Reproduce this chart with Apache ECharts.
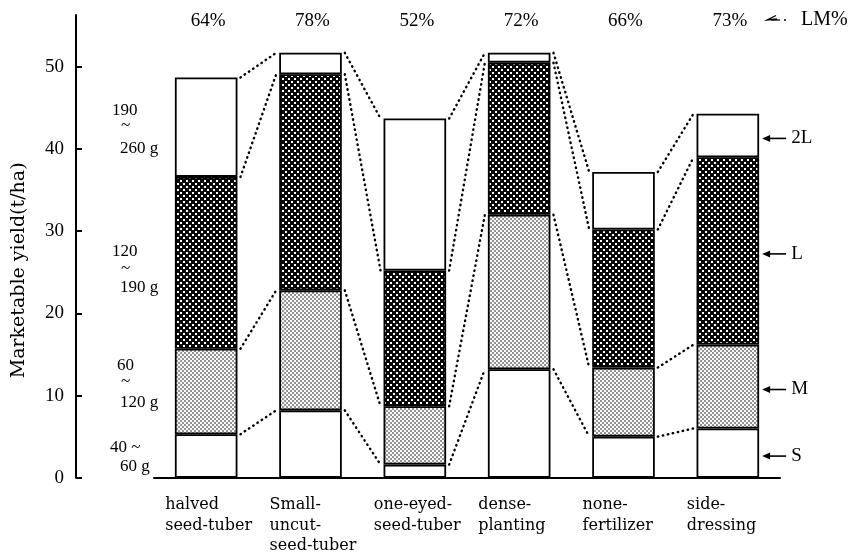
<!DOCTYPE html>
<html>
<head>
<meta charset="utf-8">
<script src="https://cdn.jsdelivr.net/npm/echarts@6/dist/echarts.min.js"></script>
<style>
  html, body { margin: 0; padding: 0; background: #fff; }
  #chart { width: 863px; height: 554px; }
</style>
</head>
<body>
<div id="chart"></div>
<script>
// Seeding methods compared
const categories = ['halved\nseed-tuber', 'Small-\nuncut-\nseed-tuber', 'one-eyed-\nseed-tuber',
                    'dense-\nplanting', 'none-\nfertilizer', 'side-\ndressing'];
// Marketable yield by tuber size class (t/ha)
const sizeS  = [5.3, 8.2, 1.6, 13.2, 5.0, 6.0];     // 40~60 g
const sizeM  = [10.4, 14.6, 7.1, 18.8, 8.4, 10.2];  // 60~120 g
const sizeL  = [20.9, 26.3, 16.5, 18.5, 16.8, 22.8]; // 120~190 g
const size2L = [12.1, 2.6, 18.5, 1.2, 7.0, 5.3];    // 190~260 g
// Share of L + M tubers (%)
const lmPercent = [64, 78, 52, 72, 66, 73];
const yTicks = [0, 10, 20, 30, 40, 50];
const classNames = ['S', 'M', 'L', '2L'];

const SERIF = '"Liberation Serif", "Times New Roman", serif';
const SERIF_WIDE = '"DejaVu Serif", serif';

// Fill tiles for the hatched classes
function makeTile(size, draw) {
  const c = document.createElement('canvas');
  c.width = c.height = size;
  draw(c.getContext('2d'));
  return c;
}
const darkTile = makeTile(6, ctx => {
  ctx.fillStyle = '#080808'; ctx.fillRect(0, 0, 6, 6);
  ctx.fillStyle = '#ffffff'; ctx.fillRect(0, 0, 2, 2); ctx.fillRect(3, 3, 2, 2);
});
const lightTile = makeTile(4, ctx => {
  ctx.fillStyle = '#fafafa'; ctx.fillRect(0, 0, 4, 4);
  ctx.fillStyle = '#111';
  ctx.beginPath(); ctx.arc(1, 1, 0.8, 0, Math.PI * 2); ctx.fill();
  ctx.beginPath(); ctx.arc(3, 3, 0.8, 0, Math.PI * 2); ctx.fill();
});

const classSeries = [sizeS, sizeM, sizeL, size2L];
const classFills = ['#ffffff', { image: lightTile, repeat: 'repeat' },
                    { image: darkTile, repeat: 'repeat' }, '#ffffff'];

// Cumulative heights: top of S, M, L and 2L for every bar
const cumulative = classSeries.map((_, k) =>
  categories.map((__, i) => classSeries.slice(0, k + 1).reduce((s, arr) => s + arr[i], 0)));

// Dotted links between neighbouring bars at every class boundary
const linkData = [];
for (let i = 0; i < categories.length - 1; i++) {
  for (let k = 0; k < cumulative.length; k++) {
    linkData.push([i, cumulative[k][i], cumulative[k][i + 1]]);
  }
}

// Class arrows beside the last bar, at each segment's middle
const last = categories.length - 1;
const arrowData = classNames.map((name, k) => {
  const lo = k === 0 ? 0 : cumulative[k - 1][last];
  return [last, (lo + cumulative[k][last]) / 2, k];
});

const BAR_RATIO = 0.6;

const barSeries = classSeries.map((arr, k) => ({
  type: 'bar',
  name: classNames[k],
  stack: 'yield',
  data: arr,
  barWidth: (BAR_RATIO * 100) + '%',
  itemStyle: { color: classFills[k], borderColor: '#000', borderWidth: 1.8 },
  emphasis: { disabled: true },
  z: 3
}));

const chart = echarts.init(document.getElementById('chart'), null, { renderer: 'canvas' });

chart.setOption({
  animation: false,
  backgroundColor: '#fff',
  grid: { left: 154, right: 83, top: 15, bottom: 73 },
  xAxis: {
    type: 'category',
    data: categories,
    axisLine: { show: true, lineStyle: { color: '#000', width: 2 } },
    axisTick: { show: false },
    axisLabel: {
      margin: 17,
      align: 'center',
      formatter: v => v.split('\n').map(s => '{a|' + s + '}').join('\n'),
      rich: {
        a: { width: 82, align: 'left', fontFamily: SERIF_WIDE, fontSize: 16, lineHeight: 20.5, color: '#000' }
      }
    }
  },
  yAxis: {
    type: 'value',
    min: 0,
    max: 56.3,
    interval: 10,
    offset: 78,
    splitLine: { show: false },
    axisLine: { show: true, lineStyle: { color: '#000', width: 2 } },
    axisTick: { show: true, inside: true, length: 6, customValues: yTicks, lineStyle: { color: '#000', width: 2 } },
    axisLabel: { customValues: yTicks, margin: 12, fontFamily: SERIF, fontSize: 19, color: '#000' },
    name: 'Marketable yield(t/ha)',
    nameLocation: 'middle',
    nameGap: 47,
    nameTextStyle: { fontFamily: SERIF_WIDE, fontSize: 19, color: '#000', padding: [0, 48, 0, 0] }
  },
  series: [
    ...barSeries,
    {
      type: 'custom',
      name: 'links',
      data: linkData,
      encode: { x: 0, y: 1 },
      silent: true,
      z: 2,
      renderItem: (params, api) => {
        const i = api.value(0);
        const half = api.size([1, 0])[0] * BAR_RATIO / 2;
        const a = api.coord([i, api.value(1)]);
        const b = api.coord([i + 1, api.value(2)]);
        return {
          type: 'line',
          shape: { x1: a[0] + half + 3, y1: a[1], x2: b[0] - half - 3, y2: b[1] },
          style: { stroke: '#000', lineWidth: 2.4, lineDash: [0.5, 4.6], lineCap: 'round' }
        };
      }
    },
    {
      type: 'custom',
      name: 'LM%',
      data: lmPercent.map((p, i) => [i, p]),
      encode: { x: 0, y: -1 },
      silent: true,
      renderItem: (params, api) => {
        const x = api.coord([api.value(0), 0])[0];
        return {
          type: 'text',
          x: x + 2,
          y: params.coordSys.y + 6,
          style: { text: api.value(1) + '%', align: 'center', verticalAlign: 'middle',
                   font: '19px ' + SERIF, fill: '#000' }
        };
      }
    },
    {
      type: 'custom',
      name: 'classes',
      data: arrowData,
      encode: { x: 0, y: 1 },
      silent: true,
      renderItem: (params, api) => {
        const half = api.size([1, 0])[0] * BAR_RATIO / 2;
        const p = api.coord([api.value(0), api.value(1)]);
        const x0 = p[0] + half + 3;
        const y = p[1] + 3;
        return {
          type: 'group',
          children: [
            { type: 'polygon', shape: { points: [[x0, y], [x0 + 8, y - 3.5], [x0 + 8, y + 3.5]] },
              style: { fill: '#000' } },
            { type: 'line', shape: { x1: x0 + 6, y1: y, x2: x0 + 24, y2: y },
              style: { stroke: '#000', lineWidth: 1.6 } },
            { type: 'text', x: x0 + 29, y: y,
              style: { text: classNames[api.value(2)], align: 'left', verticalAlign: 'middle',
                       font: '19px ' + SERIF, fill: '#000' } }
          ]
        };
      }
    }
  ],
  graphic: [
    // size-class ranges beside the first bar
    { type: 'text', left: 112, top: 102, style: { text: '190', font: '17px ' + SERIF, fill: '#000' } },
    { type: 'text', left: 121, top: 117, style: { text: '~', font: '17px ' + SERIF, fill: '#000' } },
    { type: 'text', left: 120, top: 140, style: { text: '260 g', font: '17px ' + SERIF, fill: '#000' } },
    { type: 'text', left: 112, top: 243, style: { text: '120', font: '17px ' + SERIF, fill: '#000' } },
    { type: 'text', left: 121, top: 260, style: { text: '~', font: '17px ' + SERIF, fill: '#000' } },
    { type: 'text', left: 120, top: 279, style: { text: '190 g', font: '17px ' + SERIF, fill: '#000' } },
    { type: 'text', left: 117, top: 357, style: { text: '60', font: '17px ' + SERIF, fill: '#000' } },
    { type: 'text', left: 121, top: 373, style: { text: '~', font: '17px ' + SERIF, fill: '#000' } },
    { type: 'text', left: 120, top: 394, style: { text: '120 g', font: '17px ' + SERIF, fill: '#000' } },
    { type: 'text', left: 110, top: 439, style: { text: '40 ~', font: '17px ' + SERIF, fill: '#000' } },
    { type: 'text', left: 120, top: 458, style: { text: '60 g', font: '17px ' + SERIF, fill: '#000' } },
    // header key for the percentage row
    { type: 'polyline', shape: { points: [[776, 15.5], [767, 20], [777, 19]] },
      style: { stroke: '#000', lineWidth: 1.3, fill: null } },
    { type: 'line', shape: { x1: 771, y1: 20, x2: 780, y2: 20 },
      style: { stroke: '#000', lineWidth: 1.3 } },
    { type: 'circle', shape: { cx: 785, cy: 20, r: 1 }, style: { fill: '#000' } },
    { type: 'text', left: 801, top: 10, style: { text: 'LM%', font: '20px ' + SERIF, fill: '#000' } }
  ]
});
</script>
</body>
</html>
